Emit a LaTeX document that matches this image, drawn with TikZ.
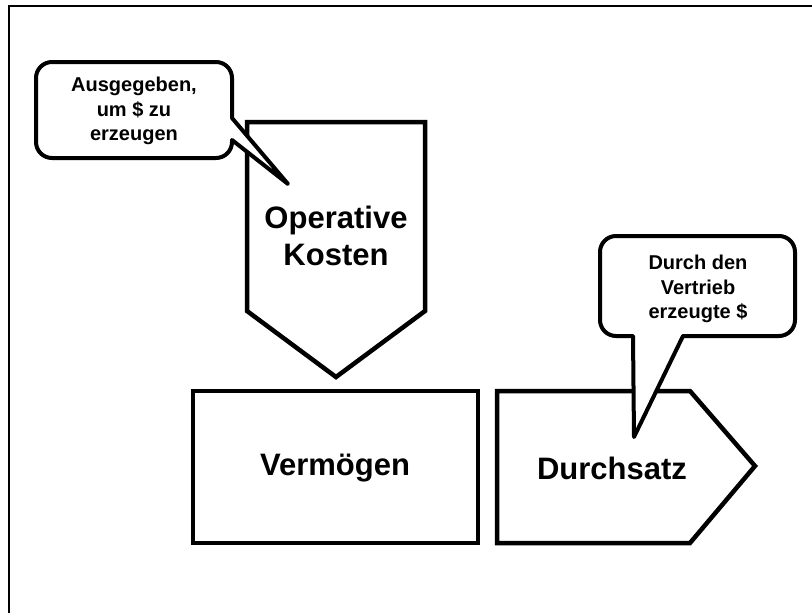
\documentclass[tikz,border=0pt]{standalone}
\usepackage{fontspec}
\setmainfont{Liberation Sans}
\begin{document}
\begin{tikzpicture}[x=1pt,y=-1pt,
  shapeline/.style={line width=4.5pt,draw=black,fill=white,line join=miter},
  calloutline/.style={line width=4pt,draw=black,fill=white,line join=round},
  bigtext/.style={font=\fontsize{31}{37}\selectfont\bfseries,align=center,inner sep=0pt},
  smalltext/.style={font=\fontsize{20}{24.5}\selectfont\bfseries,align=center,inner sep=0pt}]
\useasboundingbox (0,0) rectangle (812,613);
\fill[white] (0,0) rectangle (812,613);
% page frame (top and left edges)
\draw[line width=2pt] (8.5,613) -- (8.5,5.5) -- (812,5.5);

% operating costs: downward pointing pentagon
\draw[shapeline] (247,122) -- (425,122) -- (425,311) -- (336,377) -- (247,311) -- cycle;
\node[bigtext] (opk) at (336,236) {Operative\\Kosten};

% assets box
\draw[shapeline] (193,391) rectangle (478,543);
\node[bigtext] (verm) at (335,468) {Vermögen};

% throughput: right pointing pentagon
\draw[shapeline] (497,391) -- (690,391) -- (755,466) -- (690,543) -- (497,543) -- cycle;
\node[bigtext] (durch) at (612,468) {Durchsatz};

% speech bubble for operating costs
\draw[calloutline] (232,118) -- (288,184) -- (232,140)
  {[rounded corners=16pt] -- (232,158) -- (36,158) -- (36,62) -- (232,62)} -- cycle;
\node[smalltext] (calloutA) at (134,111) {Ausgegeben,\\um \$ zu\\erzeugen};

% speech bubble for throughput
\draw[calloutline] (633,336) -- (634,437) -- (683,336)
  {[rounded corners=16pt] -- (795,336) -- (795,236) -- (600,236) -- (600,336)} -- cycle;
\node[smalltext] (calloutB) at (698,289) {Durch den\\Vertrieb\\erzeugte \$};
\end{tikzpicture}
\end{document}
